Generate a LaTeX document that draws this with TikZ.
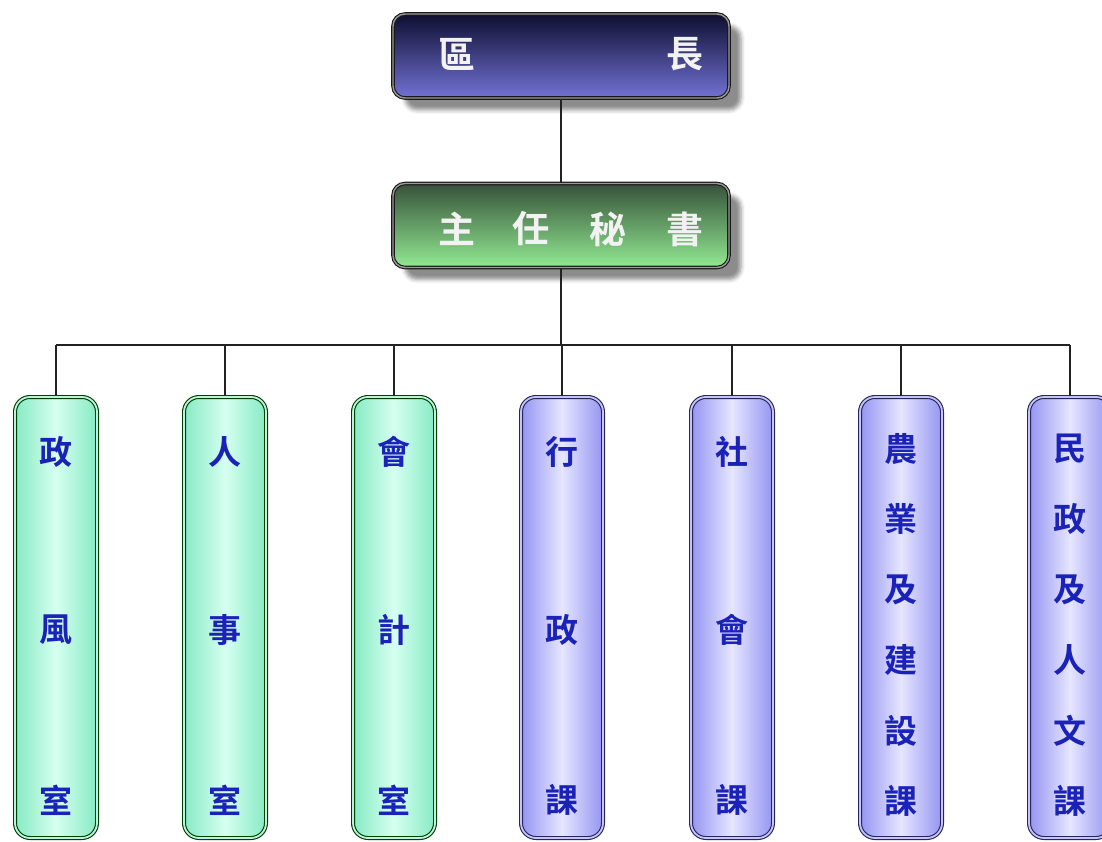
\documentclass[tikz,border=0pt]{standalone}
\usepackage{fontspec}
\newfontfamily\cjk{Noto Sans CJK TC}[BoldFont={Noto Sans CJK TC Bold}]
\usetikzlibrary{shadows.blur}
\definecolor{navytop}{HTML}{0E0E30}
\definecolor{navybot}{HTML}{7272D6}
\definecolor{grtop}{HTML}{37523A}
\definecolor{grbot}{HTML}{92EA92}
\definecolor{aqedge}{HTML}{86EAC4}
\definecolor{aqmid}{HTML}{D6FFF0}
\definecolor{puedge}{HTML}{9494F2}
\definecolor{pumid}{HTML}{E6E6FF}
\definecolor{txtblue}{HTML}{1A22B8}
\definecolor{lineblk}{HTML}{222222}
\tikzset{
  headbox/.style={rounded corners=12pt, minimum width=336pt, minimum height=84pt,
    draw=black!90, double=black!40, double distance=1.4pt, line width=1.1pt,
    blur shadow={shadow xshift=12pt, shadow yshift=-12pt, shadow blur steps=4, shadow blur radius=4pt, shadow opacity=45}},
  chiefbox/.style={headbox, top color=navytop, bottom color=navybot},
  secbox/.style={headbox, top color=grtop, bottom color=grbot},
  colbox/.style={rounded corners=15pt, minimum width=82pt, minimum height=441pt,
    line width=1.1pt, double distance=1.8pt, shading=axis, shading angle=90},
  officebox/.style={colbox, draw=green!25!black, double=aqedge!55!white,
    left color=aqedge, right color=aqedge, middle color=aqmid},
  sectbox/.style={colbox, draw=blue!25!black!85, double=puedge!55!white,
    left color=puedge, right color=puedge, middle color=pumid},
  headtxt/.style={text=black!5, font=\cjk\bfseries\fontsize{37}{37}\selectfont},
  coltxt/.style={text=txtblue, font=\cjk\bfseries\fontsize{33}{33}\selectfont},
  conn/.style={draw=lineblk, line width=1.6pt}
}
\begin{document}
\begin{tikzpicture}[x=1pt,y=-1pt]
\useasboundingbox (0,0) rectangle (1102,842);
% heads
\node[chiefbox] (chief) at (561,56) {};
\node[secbox] (sec) at (561,225.5) {};
\node[headtxt] (c1) at (457,54) {區};
\node[headtxt] (c2) at (685,54) {長};
\node[headtxt] (s1) at (457,229) {主};
\node[headtxt] (s2) at (531,229) {任};
\node[headtxt] (s3) at (608,229) {秘};
\node[headtxt] (s4) at (685,229) {書};
% columns
\node[officebox] (b1) at (56,617.5) {};
\node[officebox] (b2) at (225,617.5) {};
\node[officebox] (b3) at (394,617.5) {};
\node[sectbox] (b4) at (562,617.5) {};
\node[sectbox] (b5) at (732,617.5) {};
\node[sectbox] (b6) at (901,617.5) {};
\node[sectbox] (b7) at (1070,617.5) {};
% bus
\coordinate (hub) at (561,345);
\coordinate (busL) at (56,345);
\coordinate (busR) at (1070,345);
\draw[conn] (chief.south) -- (sec.north);
\draw[conn] (sec.south) -- (hub);
\draw[conn] (busL) -- (busR);
\foreach \b in {b1,b2,b3,b4,b5,b6,b7}{
  \draw[conn] (\b.north |- hub) -- (\b.north);
}
% column texts (3 chars)
\foreach \b/\x/\ta/\tb/\tc in {b1/56/政/風/室, b2/225/人/事/室, b3/394/會/計/室, b4/562/行/政/課, b5/732/社/會/課}{
  \node[coltxt] (\b-1) at (\x,452) {\ta};
  \node[coltxt] (\b-2) at (\x,630) {\tb};
  \node[coltxt] (\b-3) at (\x,800) {\tc};
}
% column texts (6 chars)
\foreach \t [count=\i] in {農,業,及,建,設,課}{
  \node[coltxt] (b6-\i) at (901,{449+70.4*(\i-1)}) {\t};
}
\foreach \t [count=\i] in {民,政,及,人,文,課}{
  \node[coltxt] (b7-\i) at (1070,{449+70.4*(\i-1)}) {\t};
}
\end{tikzpicture}
\end{document}
